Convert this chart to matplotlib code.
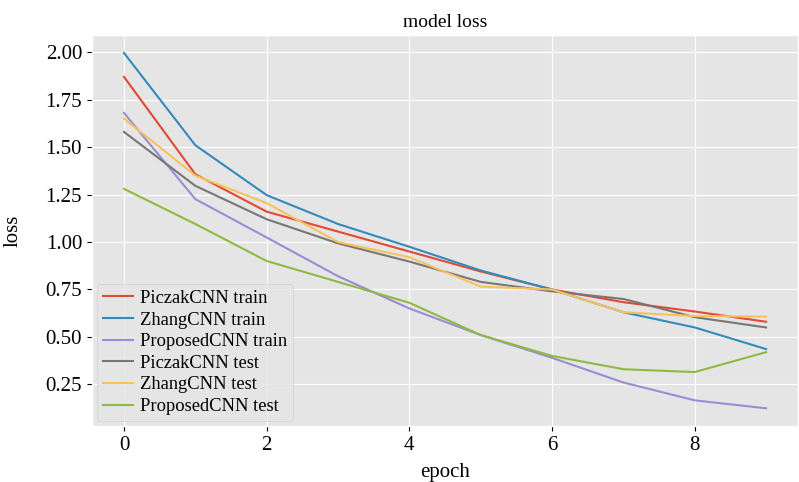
import matplotlib
matplotlib.use("Agg")
import matplotlib.pyplot as plt

epochs = list(range(10))

piczak_train = [1.87, 1.357, 1.16, 1.055, 0.95, 0.845, 0.75, 0.683, 0.634, 0.58]
zhang_train = [1.996, 1.51, 1.247, 1.095, 0.975, 0.85, 0.75, 0.63, 0.55, 0.436]
proposed_train = [1.68, 1.226, 1.024, 0.82, 0.65, 0.51, 0.39, 0.26, 0.166, 0.124]
piczak_test = [1.58, 1.296, 1.12, 0.993, 0.897, 0.79, 0.74, 0.70, 0.604, 0.55]
zhang_test = [1.65, 1.35, 1.205, 1.0, 0.92, 0.765, 0.75, 0.63, 0.61, 0.607]
proposed_test = [1.28, 1.095, 0.90, 0.79, 0.68, 0.51, 0.40, 0.33, 0.315, 0.42]

labels = ["PiczakCNN train", "ZhangCNN train", "ProposedCNN train",
          "PiczakCNN test", "ZhangCNN test", "ProposedCNN test"]

plt.style.use("ggplot")
plt.rcParams["font.family"] = ["Liberation Serif", "DejaVu Serif"]

fig, ax = plt.subplots(figsize=(7.99, 4.82), dpi=100)
for series, lab in zip([piczak_train, zhang_train, proposed_train,
                        piczak_test, zhang_test, proposed_test], labels):
    ax.plot(epochs, series, label=lab, linewidth=1.5)

ax.set_title("model loss", fontsize=14, color="black")
ax.set_xlabel("epoch", fontsize=15, color="black", labelpad=6)
ax.set_ylabel("loss", fontsize=15, color="black")
ax.yaxis.set_label_coords(-0.098, 0.5)
ax.tick_params(labelsize=15, colors="black")
ax.set_xticks([0, 2, 4, 6, 8])
ax.legend(loc="lower left", fontsize=13.3, handlelength=1.6, labelspacing=0.25,
          borderpad=0.3, handletextpad=0.4, borderaxespad=0.3)

fig.subplots_adjust(left=0.115, right=0.999, top=0.927, bottom=0.116)
fig.savefig("out.png", dpi=100)
